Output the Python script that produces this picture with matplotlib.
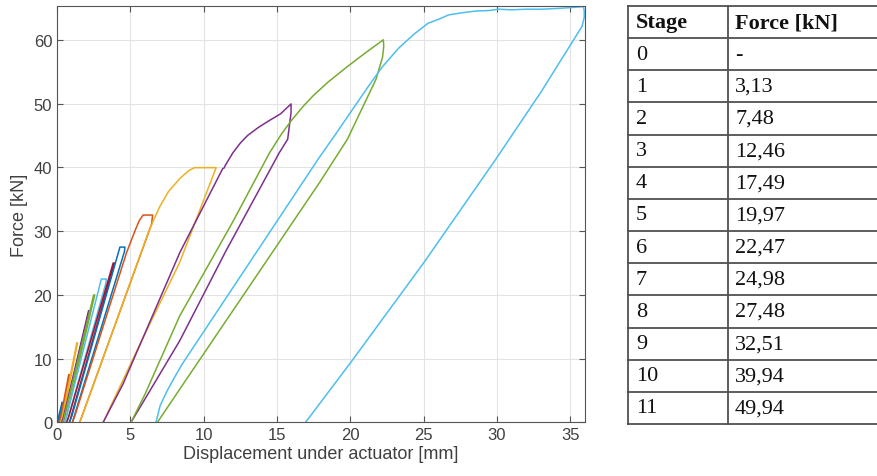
import matplotlib.pyplot as plt

# MATLAB default colour order
colors = ['#0072BD', '#D95319', '#EDB120', '#7E2F8E', '#77AC30', '#4DBEEE', '#A2142F']

# load / hold / unload loops, displacement [mm] and force [kN]
x01 = [0.0, 0.08, 0.35, 0.38, 0.12]
f01 = [0, 0.6, 3.13, 3.13, 0]
x02 = [0.12, 0.25, 0.80, 0.88, 0.85, 0.25]
f02 = [0, 0.8, 7.48, 7.48, 7.0, 0]
x03 = [0.25, 0.35, 1.35, 1.40, 0.33]
f03 = [0, 0.8, 12.46, 12.46, 0]
x04 = [0.33, 0.45, 2.15, 2.20, 0.42]
f04 = [0, 0.9, 17.49, 17.49, 0]
x05 = [0.40, 0.50, 2.50, 2.57, 0.55]
f05 = [0, 0.9, 19.97, 19.97, 0]
x06 = [0.52, 0.65, 3.02, 3.36, 3.33, 0.68]
f06 = [0, 0.9, 22.47, 22.47, 21.8, 0]
x07 = [0.66, 0.80, 3.83, 3.93, 0.85]
f07 = [0, 0.9, 24.98, 24.98, 0]
x08 = [0.85, 1.00, 4.29, 4.63, 4.60, 1.05]
f08 = [0, 0.9, 27.48, 27.48, 26.8, 0]
x09 = [1.05, 1.20, 4.74, 5.31, 5.60, 5.87, 6.52, 6.45, 1.55]
f09 = [0, 0.9, 26.6, 30.0, 31.6, 32.51, 32.51, 31.1, 0]
x10 = [1.55, 2.0, 6.2, 6.6, 7.0, 7.6, 8.4, 9.0, 9.37, 10.85, 8.37, 5.5, 3.15]
f10 = [0, 2.8, 29.6, 31.8, 33.8, 36.2, 38.3, 39.5, 39.94, 39.94, 25.1, 11.5, 0]
x11 = [3.15, 4.5, 8.37, 11.3, 11.4, 11.45, 12.0, 12.5, 13.0, 13.7, 14.45, 15.25, 15.96,
       15.96, 15.73, 15.16, 11.5, 8.37, 5.05]
f11 = [0, 6.0, 26.6, 39.8, 39.9, 40.2, 42.3, 43.8, 45.0, 46.2, 47.3, 48.4, 49.94,
       48.6, 44.4, 42.3, 26.8, 12.8, 0]
x12 = [5.05, 6.0, 8.37, 12.0, 14.5, 15.3, 16.0, 16.8, 17.5, 18.5, 19.8, 21.0, 22.25,
       22.28, 22.2, 21.75, 19.8, 17.9, 14.55, 8.37, 6.85]
f12 = [0, 4.4, 16.7, 31.5, 42.3, 45.2, 47.4, 49.6, 51.3, 53.4, 55.8, 57.9, 60.0,
       59.0, 57.3, 53.8, 44.4, 37.6, 26.2, 5.2, 0]
x13 = [6.75, 7.03, 7.5, 8.0, 8.5, 17.9, 19.0, 21.2, 22.2, 23.3, 24.3, 25.3, 26.0,
       26.7, 27.5, 28.5, 29.5, 30.1, 31.0, 32.0, 33.0, 34.0, 34.7, 35.3, 35.9,
       35.95, 35.95, 35.8, 33.0, 29.9, 25.0, 20.0, 16.95]
f13 = [0, 2.6, 4.9, 7.0, 9.0, 41.6, 45.2, 52.6, 55.8, 58.7, 60.8, 62.6, 63.2,
       63.9, 64.2, 64.5, 64.6, 64.8, 64.7, 64.8, 64.8, 64.9, 65.0, 65.1, 65.2,
       64.5, 63.5, 62.1, 51.8, 41.2, 25.0, 9.3, 0]

curves_x = [x01, x02, x03, x04, x05, x06, x07, x08, x09, x10, x11, x12, x13]
curves_f = [f01, f02, f03, f04, f05, f06, f07, f08, f09, f10, f11, f12, f13]

# table
stages = ['0', '1', '2', '3', '4', '5', '6', '7', '8', '9', '10', '11']
forces = ['-', '3,13', '7,48', '12,46', '17,49', '19,97', '22,47', '24,98',
          '27,48', '32,51', '39,94', '49,94']

fig = plt.figure(figsize=(8.77, 4.77), dpi=100)
ax = fig.add_axes([0.065, 0.1126, 0.602, 0.8727])

for i in range(len(curves_x)):
    ax.plot(curves_x[i], curves_f[i], color=colors[i % 7], lw=1.1)

txt = '#404040'
ax.set_xlim(0, 36)
ax.set_ylim(0, 65.3)
ax.set_xticks(range(0, 36, 5))
ax.set_yticks(range(0, 61, 10))
ax.grid(True, color='#e3e3e3', lw=0.8)
ax.set_axisbelow(True)
ax.tick_params(direction='in', top=True, right=True, labelsize=12,
               colors='#555555', labelcolor=txt, length=4)
for s in ax.spines.values():
    s.set_color('#555555')
    s.set_linewidth(0.8)
ax.set_xlabel('Displacement under actuator [mm]', fontsize=13, color=txt,
              family='Liberation Sans', labelpad=2)
ax.set_ylabel('Force [kN]', fontsize=13, color=txt, family='Liberation Sans',
              labelpad=4)
for lab in ax.get_xticklabels() + ax.get_yticklabels():
    lab.set_family('Liberation Sans')

# table on the right
tax = fig.add_axes([628 / 877, 52 / 477, 249 / 877, 418 / 477])
tax.set_xlim(0, 1)
tax.set_ylim(0, 1)
tax.axis('off')
nrows = len(stages) + 1
h = 1 / nrows
lc = '#505050'
for r in range(nrows + 1):
    tax.plot([0, 1], [r * h, r * h], color=lc, lw=1.3, clip_on=False)
tax.plot([0, 0], [0, 1], color=lc, lw=1.3, clip_on=False)
tax.plot([0.4016, 0.4016], [0, 1], color=lc, lw=1.3, clip_on=False)

tf = dict(family='Liberation Serif', fontsize=16, va='center', color='#111111')
tax.text(0.032, 1 - h / 2, 'Stage', weight='bold', **tf)
tax.text(0.43, 1 - h / 2, 'Force [kN]', weight='bold', **tf)
for i in range(len(stages)):
    yc = 1 - (i + 1.5) * h
    tax.text(0.032, yc, stages[i], **tf)
    tax.text(0.43, yc, forces[i], **tf)

fig.savefig('out.png', dpi=100)
